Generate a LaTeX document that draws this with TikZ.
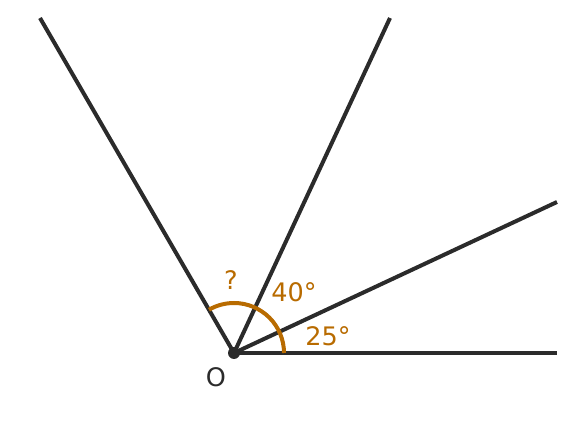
\documentclass[tikz,border=0pt]{standalone}
\usepackage{fontspec}
\setmainfont{DejaVu Sans}
\usepackage{xcolor}
\usepackage{tikz}
\usetikzlibrary{arrows.meta}
\definecolor{raycol}{HTML}{2B2B2B}
\definecolor{anglecol}{HTML}{B86B00}

\begin{document}
\begin{tikzpicture}[x=1pt,y=1pt,
        ray/.style={raycol, line width=4pt},
        anglearc/.style={anglecol, line width=4pt},
        anglelabel/.style={text=anglecol, font=\fontsize{25.5}{28}\selectfont, inner sep=0pt}
      ]
      \useasboundingbox (0,0) rectangle (576,425);

      % 座標の定義
      \coordinate (O) at (234,72);
      \coordinate (east) at (557,72);
      \coordinate (ray25) at (557,223);
      \coordinate (ray65) at (390,407);
      \coordinate (ray120) at (40,407);

      % 半直線
      \draw[ray] (O) -- (east);
      \draw[ray] (O) -- (ray25);
      \draw[ray] (O) -- (ray65);
      \draw[ray] (O) -- (ray120);

      % 角の弧
      \draw[anglearc] ([shift={(0:50)}]O) arc[start angle=0, end angle=120, radius=50];

      % 原点
      \fill[raycol] (O) circle (6);
      \node[text=raycol, font=\fontsize{25.5}{28}\selectfont, inner sep=0pt] (Olabel) at (216,48) {O};

      % 角度のラベル
      \node[anglelabel] (unknown) at (231,145) {?};
      \node[anglelabel] (forty) at (294,133) {40°};
      \node[anglelabel] (twentyfive) at (328,89) {25°};

    \end{tikzpicture}
\end{document}
